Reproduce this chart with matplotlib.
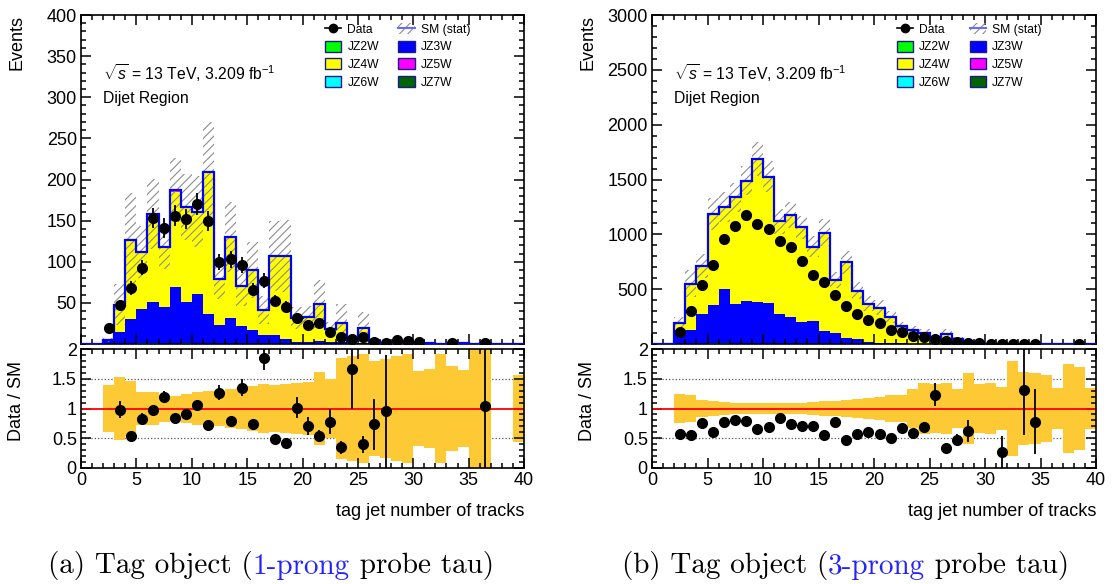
import numpy as np
import matplotlib
matplotlib.use("Agg")
import matplotlib.pyplot as plt
from matplotlib.patches import Patch
from matplotlib.lines import Line2D
from matplotlib.ticker import MultipleLocator

# Tag jet track multiplicity in the dijet region, data vs. stacked JZ slices,
# for the 1-prong and 3-prong probe tau selections.

plt.rcParams['font.family'] = ['Liberation Sans', 'DejaVu Sans']
plt.rcParams['mathtext.fontset'] = 'custom'
plt.rcParams['mathtext.rm'] = 'Liberation Sans'
plt.rcParams['mathtext.it'] = 'Liberation Sans:italic'
plt.rcParams['hatch.color'] = '#8c8c8c'
plt.rcParams['hatch.linewidth'] = 0.8

W, H = 1112, 584

bin_edges = np.arange(0, 41)

# ---- (a) 1-prong probe tau ----
data_1p = [0, 0, 19, 47, 68, 93, 153, 141, 156, 152,
           170, 150, 100, 103, 96, 66, 77, 52, 45, 32,
           23, 26, 14, 9, 6, 8, 3, 1, 5, 4,
           2, 0, 0, 1, 0, 0, 1, 0, 0, 0]
jz2w_1p = [0, 0, 0, 0, 0, 1, 1, 0, 0, 1,
           0, 0, 0, 0, 0, 0, 0, 0, 0, 0,
           0, 0, 0, 0, 0, 0, 0, 0, 0, 0,
           0, 0, 0, 0, 0, 0, 0, 0, 0, 0]
jz3w_1p = [0, 0, 5, 14, 30, 41, 50, 45, 69, 50,
           61, 36, 23, 32, 22, 17, 11, 11, 6, 2,
           3, 4, 3, 2, 1, 1, 1, 0.5, 0.3, 0.3,
           0.3, 0.3, 0.2, 0.1, 0.2, 0.2, 0.16, 0, 0, 0.2]
jz4w_1p = [0, 0, 0, 34, 95, 69, 106, 72, 116, 115,
           99, 172, 55, 97, 48, 72, 30, 95, 100, 29,
           29, 44, 14.5, 23.5, 2.5, 18.5, 3, 0.55, 1.6, 1.1,
           0.4, 1.1, 0.25, 0.25, 0.5, 0.25, 0.8, 0, 0, 0.25]
jz5w_1p = [0, 0, 0, 0, 1, 1, 1, 1, 2, 1,
           1, 1, 1, 1, 1, 0.6, 0.5, 1, 1, 0.5,
           0.5, 0.5, 0.5, 0.5, 0.1, 0.5, 0.1, 0, 0, 0,
           0, 0, 0, 0, 0, 0, 0, 0, 0, 0]
jz6w_1p = [0] * 40
jz7w_1p = [0] * 40
stat_rel_1p = [0, 0, .40, .53, .46, .28, .27, .23, .21, .24,
               .27, .29, .30, .33, .35, .38, .42, .40, .41, .43,
               .44, .61, .50, .85, .88, .92, .80, .84, .88, .91,
               .63, .67, .92, .72, .64, 1.0, 1.1, 0, 0, .56]

# ---- (b) 3-prong probe tau ----
data_3p = [0, 0, 112, 302, 539, 719, 957, 1075, 1176, 1094,
           1045, 941, 880, 756, 631, 564, 448, 350, 277, 222,
           192, 125, 110, 73, 67, 42, 31, 21, 11, 6,
           4, 1, 2, 3, 2, 0, 0, 0, 1, 0]
jz2w_3p = [0, 0, 0, 0, 0, 5, 5, 0, 0, 0,
           0, 0, 0, 0, 0, 0, 0, 0, 0, 0,
           0, 0, 0, 0, 0, 0, 0, 0, 0, 0,
           0, 0, 0, 0, 0, 0, 0, 0, 0, 0]
jz3w_3p = [0, 0, 128, 128, 271, 350, 494, 369, 393, 384,
           372, 271, 247, 201, 210, 119, 98, 58, 43, 21,
           10, 8, 5, 4, 3, 2, 2, 1, 0.5, 0.2,
           0.1, 0.3, 0.1, 0.2, 0.2, 0.1, 0.1, 0.05, 0.05, 0.05]
jz4w_3p = [0, 0, 66, 421, 438, 825, 741, 961, 1089, 1294,
           1147, 841, 924, 855, 673, 891, 482, 685, 438, 344,
           320, 237, 159, 120, 94, 31.5, 91, 43.5, 17, 2.3,
           1.4, 3.4, 0.7, 2.1, 2.36, 0.9, 0.9, 0.45, 0.35, 0.45]
jz5w_3p = [0, 0, 1, 2, 4, 5, 6, 7, 8, 10,
           8, 6, 8, 7, 6, 5, 5, 4, 3, 3,
           2, 2, 1, 1, 1, 0.5, 1, 0.5, 0.2, 0,
           0, 0, 0, 0, 0, 0, 0, 0, 0, 0]
jz6w_3p = [0] * 40
jz7w_3p = [0] * 40
stat_rel_3p = [0, 0, .25, .23, .15, .12, .11, .10, .09, .09,
               .09, .10, .10, .10, .11, .12, .13, .14, .16, .18,
               .20, .22, .23, .33, .43, .42, .43, .33, .59, .42,
               .43, .36, .80, .61, .59, .57, .34, .74, .70, .34]

sample_names = ['JZ2W', 'JZ3W', 'JZ4W', 'JZ5W', 'JZ6W', 'JZ7W']
sample_colors = ['#00ff00', '#0000ff', '#ffff00', '#ff00ff', '#00ffff', '#006400']
band_color = '#fdc934'
hatch = '////'


def px_axes(fig, x0, y0, x1, y1):
    """Axes placed by pixel box (left, top, right, bottom) of the 1112x584 figure."""
    return fig.add_axes([x0 / W, 1 - y1 / H, (x1 - x0) / W, (y1 - y0) / H])


def style_ticks(ax, ymajor, yminor):
    ax.xaxis.set_major_locator(MultipleLocator(5))
    ax.xaxis.set_minor_locator(MultipleLocator(1))
    ax.yaxis.set_major_locator(MultipleLocator(ymajor))
    ax.yaxis.set_minor_locator(MultipleLocator(yminor))
    ax.tick_params(which='both', direction='in', top=True, right=True, width=1.1, labelsize=13, pad=3)
    ax.tick_params(which='major', length=7)
    ax.tick_params(which='minor', length=3.5)
    for sp in ax.spines.values():
        sp.set_linewidth(1.2)


def draw_panel(fig, x0, x1, data, samples, stat_rel, ymax, ymajor, yminor):
    ax = px_axes(fig, x0, 15, x1, 344)
    rax = px_axes(fig, x0, 349, x1, 468)

    data = np.asarray(data, dtype=float)
    stat_rel = np.asarray(stat_rel, dtype=float)
    centers = bin_edges[:-1] + 0.5

    # stacked MC
    bottom = np.zeros(40)
    for values, color in zip(samples, sample_colors):
        values = np.asarray(values, dtype=float)
        ax.stairs(bottom + values, bin_edges, baseline=bottom.copy(), fill=True,
                  facecolor=color, edgecolor='none', lw=0, zorder=1)
        bottom = bottom + values
    total = bottom

    # stat band
    ax.stairs(total * (1 + stat_rel), bin_edges, baseline=total * (1 - stat_rel), fill=True,
              facecolor='none', edgecolor='#8c8c8c', hatch=hatch, lw=0, zorder=2)
    ax.stairs(total, bin_edges, color='#0000ff', lw=1.6, zorder=3)

    m = data > 0
    ax.errorbar(centers[m], data[m], yerr=np.sqrt(data[m]), fmt='o', color='k',
                ms=7, elinewidth=1.3, capsize=0, zorder=4)

    ax.set_xlim(0, 40)
    ax.set_ylim(0, ymax)
    style_ticks(ax, ymajor, yminor)
    ax.set_yticks(np.arange(ymajor, ymax + 1, ymajor))
    ax.tick_params(labelbottom=False)
    ax.set_ylabel('Events', loc='top', fontsize=13)
    ax.yaxis.set_label_coords(-0.126, 1.0)

    ax.text(0.05, 0.824, r'$\sqrt{s}$ = 13 TeV, 3.209 fb$^{-1}$', transform=ax.transAxes,
            fontsize=11.3, va='center')
    ax.text(0.05, 0.745, 'Dijet Region', transform=ax.transAxes, fontsize=11.3, va='center')

    handles = [Line2D([], [], color='k', marker='o', ms=6, lw=1.2)]
    labels = ['Data']
    for name, color in zip(sample_names[0::2], sample_colors[0::2]):
        handles.append(Patch(facecolor=color, edgecolor='#1a1a8c', lw=1))
        labels.append(name)
    handles.append((Patch(facecolor='none', edgecolor='#8c8c8c', hatch=hatch, lw=0),
                    Line2D([], [], color='#6a6aff', lw=1.5)))
    labels.append('SM (stat)')
    for name, color in zip(sample_names[1::2], sample_colors[1::2]):
        handles.append(Patch(facecolor=color, edgecolor='#1a1a8c', lw=1))
        labels.append(name)
    ax.legend(handles, labels, ncol=2, loc='upper left', bbox_to_anchor=(0.551, 0.975),
              frameon=False, fontsize=8.7, handlelength=1.35, handleheight=1.0,
              handletextpad=0.5, columnspacing=1.6, labelspacing=0.42,
              borderpad=0, borderaxespad=0)

    # ratio panel
    rax.axhline(0.5, color='#555555', ls=':', lw=0.9, zorder=0.5)
    rax.axhline(1.5, color='#555555', ls=':', lw=0.9, zorder=0.5)
    has_mc = total > 0
    rax.bar(centers[has_mc], 2 * stat_rel[has_mc], bottom=1 - stat_rel[has_mc], width=1.0,
            color=band_color, lw=0, zorder=1)
    rax.axhline(1.0, color='#ff0000', lw=1.3, zorder=2)

    safe_total = np.where(has_mc, total, 1.0)
    ratio = data / safe_total
    ratio_err = np.sqrt(data) / safe_total
    shown = has_mc & (data > 0) & (ratio <= 2)
    rax.errorbar(centers[shown], ratio[shown], yerr=ratio_err[shown], fmt='o', color='k',
                 ms=7, elinewidth=1.3, capsize=0, zorder=4)

    rax.set_xlim(0, 40)
    rax.set_ylim(0, 2)
    style_ticks(rax, 0.5, 0.1)
    rax.set_yticks([0, 0.5, 1, 1.5, 2])
    rax.set_yticklabels(['0', '0.5', '1', '1.5', '2'])
    rax.set_ylabel('Data / SM', fontsize=13)
    rax.yaxis.set_label_coords(-0.126, 0.56)
    rax.set_xlabel('tag jet number of tracks', loc='right', fontsize=13)
    rax.xaxis.set_label_coords(1.0, -0.29)
    return ax, rax


def caption(fig, x_px, parts):
    """Sub-figure caption in Computer Modern, pieces chained left to right."""
    prev = fig.text(x_px / W, 1 - 565 / H, parts[0][0], color=parts[0][1],
                    family='cmr10', fontsize=21, va='center', ha='left')
    for s, c in parts[1:]:
        prev = fig.get_axes()[0].annotate(s, xy=(1, 0), xycoords=prev, va='bottom', ha='left',
                                          color=c, family='cmr10', fontsize=21,
                                          annotation_clip=False)


def main() -> None:
    fig = plt.figure(figsize=(W / 100, H / 100), dpi=100)
    draw_panel(fig, 81, 524, data_1p,
               [jz2w_1p, jz3w_1p, jz4w_1p, jz5w_1p, jz6w_1p, jz7w_1p],
               stat_rel_1p, 400, 50, 10)
    draw_panel(fig, 652, 1096, data_3p,
               [jz2w_3p, jz3w_3p, jz4w_3p, jz5w_3p, jz6w_3p, jz7w_3p],
               stat_rel_3p, 3000, 500, 100)
    blue = '#2323ff'
    caption(fig, 48, [('(a) Tag object (', 'k'), ('1-prong', blue), (' probe tau)', 'k')])
    caption(fig, 622, [('(b) Tag object (', 'k'), ('3-prong', blue), (' probe tau)', 'k')])
    fig.savefig('out.png', dpi=100)


if __name__ == '__main__':
    main()
